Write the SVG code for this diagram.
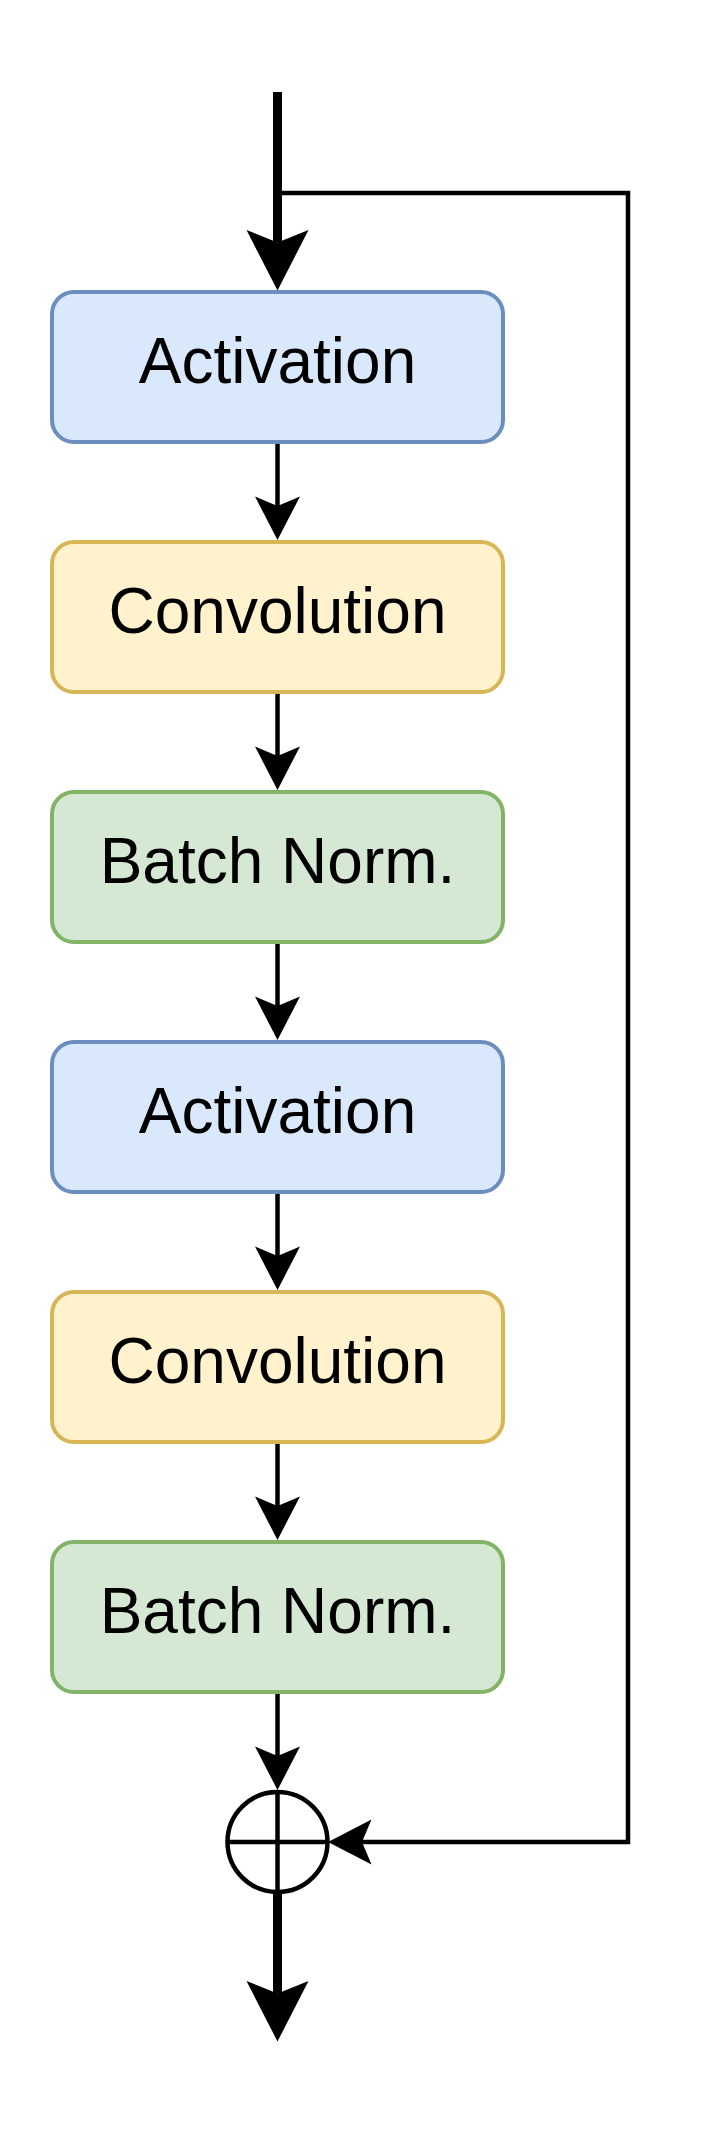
<svg xmlns="http://www.w3.org/2000/svg" width="720" height="2135" viewBox="0 0 720 2135">
<style>
.box{stroke-width:4}
.blue{fill:#dae8fc;stroke:#6c8ebf}
.yellow{fill:#fff2cc;stroke:#d6b656}
.green{fill:#d5e8d4;stroke:#82b366}
.lbl{font-family:"Liberation Sans",Arial,Helvetica,sans-serif;font-size:64px;fill:#000;text-anchor:middle}
.thin{fill:none;stroke:#000;stroke-width:4.5;marker-end:url(#arr)}
.thick{fill:none;stroke:#000;stroke-width:9;marker-end:url(#arrBig)}
</style>
<defs>
<marker id="arr" markerUnits="userSpaceOnUse" orient="auto" refX="0" refY="0" markerWidth="80" markerHeight="80" overflow="visible">
<path d="M34,0 L-9.5,-22.5 L0,0 L-9.5,22.5 Z" fill="#000"/>
</marker>
<marker id="arrBig" markerUnits="userSpaceOnUse" orient="auto" refX="0" refY="0" markerWidth="100" markerHeight="100" overflow="visible">
<path d="M48,0 L-12.5,-31 L0,0 L-12.5,31 Z" fill="#000"/>
</marker>
</defs>
<rect width="720" height="2135" fill="#fff"/>
<g id="connectors">
<path class="thick" d="M277.5,92 V242.5"/>
<path class="thin" d="M277.5,193 H628 V1842 H362"/>
<path class="thin" d="M277.5,442 V506"/>
<path class="thin" d="M277.5,692 V756"/>
<path class="thin" d="M277.5,942 V1006"/>
<path class="thin" d="M277.5,1192 V1256"/>
<path class="thin" d="M277.5,1442 V1506"/>
<path class="thin" d="M277.5,1692 V1756"/>
<path class="thick" d="M277.5,1892 V1993.5"/>
</g>
<g id="act1"><rect class="box blue" x="52" y="292" width="451" height="150" rx="22"/><text class="lbl" x="277.5" y="383">Activation</text></g>
<g id="conv1"><rect class="box yellow" x="52" y="542" width="451" height="150" rx="22"/><text class="lbl" x="277.5" y="633">Convolution</text></g>
<g id="bn1"><rect class="box green" x="52" y="792" width="451" height="150" rx="22"/><text class="lbl" x="277.5" y="883">Batch Norm.</text></g>
<g id="act2"><rect class="box blue" x="52" y="1042" width="451" height="150" rx="22"/><text class="lbl" x="277.5" y="1133">Activation</text></g>
<g id="conv2"><rect class="box yellow" x="52" y="1292" width="451" height="150" rx="22"/><text class="lbl" x="277.5" y="1383">Convolution</text></g>
<g id="bn2"><rect class="box green" x="52" y="1542" width="451" height="150" rx="22"/><text class="lbl" x="277.5" y="1633">Batch Norm.</text></g>
<g id="sum">
<circle cx="277.5" cy="1842" r="50" fill="#fff" stroke="#000" stroke-width="4.5"/>
<path d="M227.5,1842 H327.5 M277.5,1792 V1892" stroke="#000" stroke-width="4.5" fill="none"/>
</g>
</svg>
